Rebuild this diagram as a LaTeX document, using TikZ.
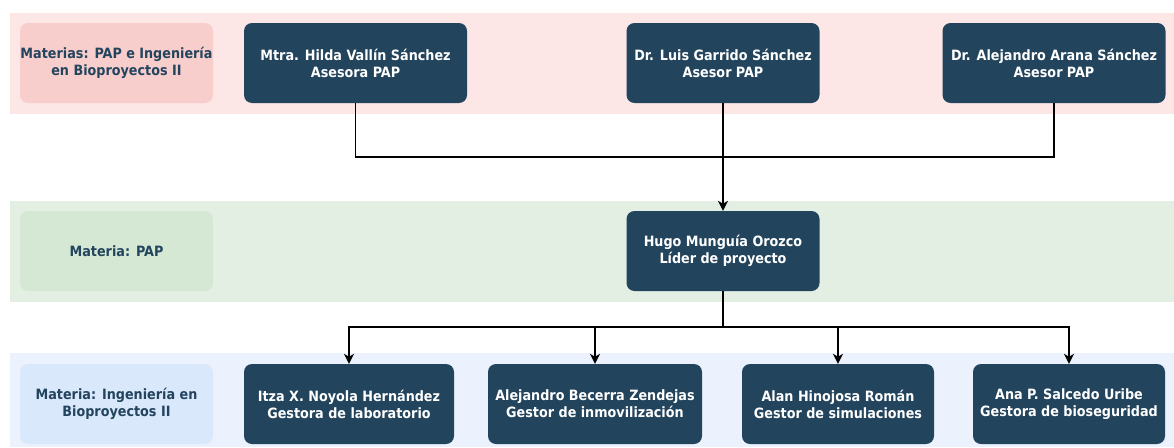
\documentclass[tikz,border=0pt]{standalone}
\usepackage{fontspec}
\setmainfont{DejaVu Sans Condensed}[BoldFont={DejaVu Sans Condensed Bold}]
\usetikzlibrary{arrows.meta}
\definecolor{navy}{HTML}{23445D}
\definecolor{pinkband}{HTML}{FCE6E6}
\definecolor{pinklabel}{HTML}{F8CECC}
\definecolor{greenband}{HTML}{E3EFE3}
\definecolor{greenlabel}{HTML}{D5E8D4}
\definecolor{blueband}{HTML}{EBF2FD}
\definecolor{bluelabel}{HTML}{DAE8FC}
\tikzset{
  txt/.style={font=\bfseries\fontsize{14.2}{17}\selectfont, align=center, inner sep=0pt},
  card/.style={txt, rounded corners=8pt, fill=navy, text=white, minimum height=80pt, minimum width=#1},
  tag/.style={txt, rounded corners=8pt, fill=#1, text=navy, minimum height=80pt, minimum width=193pt},
  link/.style={line width=1.3pt, black},
  tip/.style={link, -{Stealth[length=10pt,width=10pt,inset=3pt]}}
}
\begin{document}
\begin{tikzpicture}[x=1pt,y=-1pt]
\useasboundingbox (0,0) rectangle (1174,447);
\fill[white] (0,0) rectangle (1174,447);

% subject bands
\fill[pinkband]  (10,13)  rectangle (1174,114);
\fill[greenband] (10,201) rectangle (1174,302);
\fill[blueband]  (10,353) rectangle (1174,447);

% band labels
\node[tag=pinklabel]  (tagA) at (116.5,63)  {Materias: PAP e Ingeniería\\en Bioproyectos II};
\node[tag=greenlabel] (tagB) at (116.5,251) {Materia: PAP};
\node[tag=bluelabel]  (tagC) at (116.5,404) {Materia: Ingeniería en\\Bioproyectos II};

% advisors
\node[card=223pt] (hilda)  at (355.5,63) {Mtra. Hilda Vallín Sánchez\\Asesora PAP};
\node[card=193pt] (luis)   at (723,63)   {Dr. Luis Garrido Sánchez\\Asesor PAP};
\node[card=223pt] (arana)  at (1054,63)  {Dr. Alejandro Arana Sánchez\\Asesor PAP};

% project leader
\node[card=193pt] (hugo)   at (723,251)  {Hugo Munguía Orozco\\Líder de proyecto};

% team
\node[card=210pt] (itza)   at (349,404)  {Itza X. Noyola Hernández\\Gestora de laboratorio};
\node[card=214pt] (becerra) at (595,404) {Alejandro Becerra Zendejas\\Gestor de inmovilización};
\node[card=192pt] (alan)   at (838,404)  {Alan Hinojosa Román\\Gestor de simulaciones};
\node[card=192pt] (ana)    at (1069,404) {Ana P. Salcedo Uribe\\Gestora de bioseguridad};

% connectors
\coordinate (top) at (723,157);
\coordinate (low) at (723,327);
\draw[link] (hilda.south) |- (top);
\draw[link] (arana.south) |- (top);
\draw[tip] (luis.south) -- (hugo.north);
\draw[link] (hugo.south) -- (low);
\draw[tip] (low) -| (itza.north);
\draw[tip] (low) -| (becerra.north);
\draw[tip] (low) -| (alan.north);
\draw[tip] (low) -| (ana.north);
\end{tikzpicture}
\end{document}
